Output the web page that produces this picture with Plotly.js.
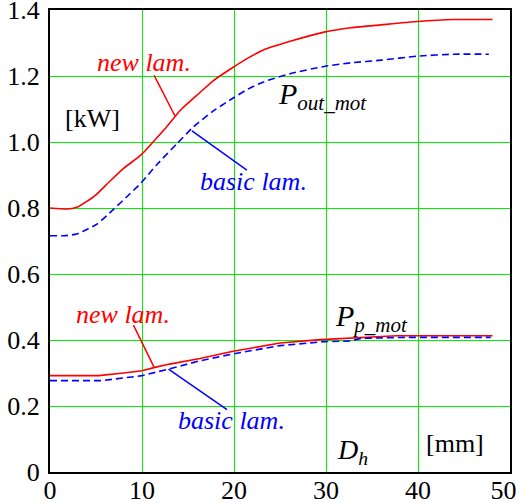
<!DOCTYPE html>
<html>
<head>
<meta charset="utf-8">
<script src="https://cdn.plot.ly/plotly-3.0.1.min.js"></script>
<style>html,body{margin:0;padding:0;background:#fff;}#chart{width:516px;height:503px;}</style>
</head>
<body>
<div id="chart"></div>
<script>
// Output power of the motor [kW] vs D_h [mm]
const xOutNew   = [0, 2, 3, 4, 5, 6.5, 8, 9.9, 11.2, 12.5, 14.2, 16.3, 17.8, 20, 21.5, 23.2, 26.1, 29.8, 32.7, 36, 39.9, 43.9, 48.1];
const outNew    = [0.800, 0.797, 0.803, 0.820, 0.840, 0.881, 0.920, 0.961, 1.000, 1.040, 1.097, 1.150, 1.187, 1.228, 1.254, 1.279, 1.305, 1.333, 1.346, 1.355, 1.365, 1.371, 1.371];
const xOutBasic = [0, 1.5, 2.9, 4, 5.1, 6.9, 8.5, 9.9, 11.6, 13.8, 15.6, 17.8, 20, 21.5, 23.2, 26.1, 29.8, 32.7, 36, 39.9, 43.9, 47.7];
const outBasic  = [0.716, 0.716, 0.721, 0.735, 0.751, 0.796, 0.838, 0.876, 0.931, 0.995, 1.046, 1.095, 1.135, 1.160, 1.182, 1.207, 1.229, 1.240, 1.248, 1.260, 1.266, 1.266];
// Power losses P_p_mot [kW]
const xPNew     = [0, 5.3, 8, 10, 11.4, 13, 16.3, 19.9, 21.8, 25, 29.4, 33, 37.7, 48.1];
const pNew      = [0.292, 0.292, 0.300, 0.307, 0.317, 0.327, 0.344, 0.366, 0.375, 0.391, 0.401, 0.406, 0.413, 0.413];
const xPBasic   = [0, 5.6, 8, 10, 12.9, 16.3, 19.9, 21.8, 25, 29.8, 32.7, 33.8, 38.8, 47.9];
const pBasic    = [0.277, 0.277, 0.285, 0.292, 0.312, 0.337, 0.358, 0.367, 0.383, 0.395, 0.397, 0.405, 0.408, 0.408];
// Tick labels
const xTickVals = [0, 10, 20, 30, 40, 50];
const xTickText = ["0", "10", "20", "30", "40", "50\u2007"];
const yTickVals = [0, 0.2, 0.4, 0.6, 0.8, 1.0, 1.2, 1.4];
const yTickText = ["0", "0.2", "0.4", "0.6", "0.8", "1.0", "1.2", "1.4"];

const RED = 'rgb(255,0,0)', BLUE = 'rgb(0,0,255)', GRID = 'rgb(0,240,0)';
const SERIF = 'Liberation Serif';

const traces = [
  {x: xOutNew, y: outNew, mode: 'lines', line: {color: RED, width: 1.6, shape: 'spline', smoothing: 0.6}},
  {x: xOutBasic, y: outBasic, mode: 'lines', line: {color: BLUE, width: 1.6, dash: '7px,4px', shape: 'spline', smoothing: 0.6}},
  {x: xPNew, y: pNew, mode: 'lines', line: {color: RED, width: 1.6}},
  {x: xPBasic, y: pBasic, mode: 'lines', line: {color: BLUE, width: 1.6, dash: '7px,4px'}}
];

function txt(x, y, text, color, size, xanchor) {
  return {x: x, y: y, xref: 'x', yref: 'y', text: text, showarrow: false,
          xanchor: xanchor || 'center', yanchor: 'middle',
          font: {family: SERIF, size: size, color: color}};
}
function ptr(x0, y0, x1, y1, color) {
  return {type: 'line', xref: 'x', yref: 'y', x0: x0, y0: y0, x1: x1, y1: y1,
          line: {color: color, width: 1.5}};
}

const layout = {
  width: 516, height: 503,
  margin: {l: 50, r: 6, t: 10, b: 31, pad: 0},
  paper_bgcolor: '#fff', plot_bgcolor: '#fff',
  showlegend: false,
  font: {family: SERIF, color: '#000'},
  xaxis: {range: [0, 50], tickvals: xTickVals, ticktext: xTickText,
          showgrid: true, gridcolor: GRID, gridwidth: 1, zeroline: false,
          showline: true, linecolor: '#000', linewidth: 2, mirror: true,
          ticks: '', ticklabeloverflow: 'allow', ticklabelstandoff: -6,
          tickfont: {family: SERIF, size: 26, color: '#000'}},
  yaxis: {range: [0, 1.4], tickvals: yTickVals, ticktext: yTickText,
          showgrid: true, gridcolor: GRID, gridwidth: 1, zeroline: false,
          showline: true, linecolor: '#000', linewidth: 2, mirror: true,
          ticks: '', ticklabelstandoff: 3, ticklabeloverflow: 'allow',
          tickfont: {family: SERIF, size: 26, color: '#000'}},
  annotations: [
    txt(10.2, 1.241, '<i>new lam.</i>', RED, 26),
    txt(4.6, 1.072, '[kW]', '#000', 26),
    txt(22.1, 0.879, '<i>basic lam.</i>', BLUE, 26),
    txt(24.6, 1.140, '<i>P<sub>out_mot</sub></i>', '#000', 30, 'left'),
    txt(7.9, 0.478, '<i>new lam.</i>', RED, 26),
    txt(19.7, 0.156, '<i>basic lam.</i>', BLUE, 26),
    txt(30.8, 0.466, '<i>P<sub>p_mot</sub></i>', '#000', 30, 'left'),
    txt(31.0, 0.062, '<i>D<sub>h</sub></i>', '#000', 28, 'left'),
    txt(44.0, 0.086, '[mm]', '#000', 26)
  ],
  shapes: [
    ptr(11.32, 1.202, 13.6, 1.078, RED),
    ptr(15.43, 1.034, 21.4, 0.915, BLUE),
    ptr(9.07, 0.445, 11.32, 0.317, RED),
    ptr(12.88, 0.312, 19.24, 0.189, BLUE)
  ]
};

Plotly.newPlot('chart', traces, layout, {staticPlot: true, displayModeBar: false});
</script>
</body>
</html>
